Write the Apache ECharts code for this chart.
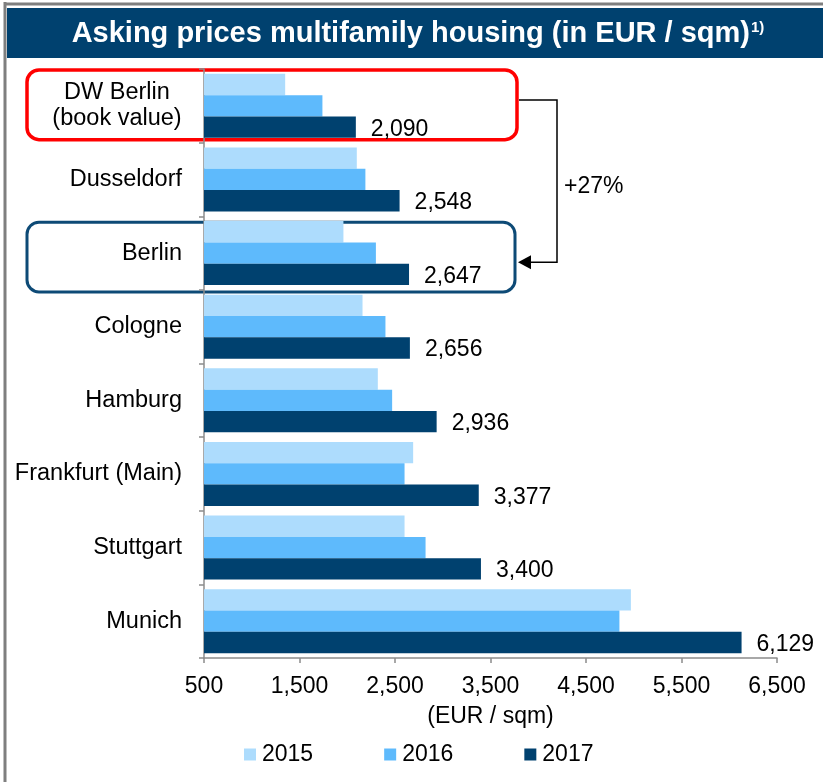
<!DOCTYPE html>
<html>
<head>
<meta charset="utf-8">
<script src="https://cdn.jsdelivr.net/npm/echarts@6/dist/echarts.min.js"></script>
<style>
  html, body { margin: 0; padding: 0; background: #fff; }
  #chart { width: 823px; height: 782px; }
</style>
</head>
<body>
<div id="chart"></div>
<script>
// categories top to bottom
const cities = ['DW Berlin\n(book value)', 'Dusseldorf', 'Berlin', 'Cologne', 'Hamburg', 'Frankfurt (Main)', 'Stuttgart', 'Munich'];
const years = ['2015', '2016', '2017'];
const v2015 = [1350, 2100, 1960, 2160, 2320, 2690, 2600, 4970];
const v2016 = [1740, 2190, 2300, 2400, 2470, 2600, 2820, 4850];
const v2017 = [2090, 2548, 2647, 2656, 2936, 3377, 3400, 6129];
const xTicks = [500, 1500, 2500, 3500, 4500, 5500, 6500];

// axis starts at 500: the scale runs in offset units so ticks fall on 500, 1500, ...
const base = xTicks[0];
const colors = ['#addcfd', '#5ebafc', '#00416f'];
const fmt = v => v.toLocaleString('en-US');
const font = 'Liberation Sans, Arial, sans-serif';
const fs = 23;
const catFs = 23.5;

// widest line of the two-line label, so both lines can be centred
const ctx = document.createElement('canvas').getContext('2d');
ctx.font = catFs + 'px ' + font;
const twoLineW = Math.ceil(Math.max.apply(null, cities[0].split('\n').map(s => ctx.measureText(s).width)));

var chart = echarts.init(document.getElementById('chart'));

function barSeries(name, values, color, withLabel) {
    return {
        name: name,
        type: 'bar',
        data: values.map(v => v - base),
        itemStyle: { color: color },
        barGap: '0%',
        barCategoryGap: '13%',
        label: {
            show: withLabel,
            position: 'right',
            distance: 15,
            color: '#000',
            fontSize: fs,
            fontFamily: font,
            offset: [0, 2],
            formatter: p => fmt(values[p.dataIndex])
        }
    };
}

chart.setOption({
    animation: false,
    backgroundColor: '#fff',
    grid: { left: 204, top: 69, width: 573, height: 589 },
    legend: {
        data: years,
        left: 239,
        top: 738,
        icon: 'rect',
        itemWidth: 12,
        itemHeight: 12,
        itemGap: 71,
        textStyle: { fontSize: fs, fontFamily: font, color: '#000', padding: [0, 0, 0, 1] }
    },
    xAxis: {
        type: 'value',
        min: 0,
        max: xTicks[xTicks.length - 1] - base,
        interval: xTicks[1] - xTicks[0],
        name: '(EUR / sqm)',
        nameLocation: 'middle',
        nameGap: 47,
        nameTextStyle: { fontSize: fs, fontFamily: font, color: '#000' },
        splitLine: { show: false },
        axisLine: { show: true, lineStyle: { color: '#8c8c8c', width: 1.5 } },
        axisTick: { show: true, length: 5, lineStyle: { color: '#8c8c8c', width: 1.5 } },
        axisLabel: {
            fontSize: fs, fontFamily: font, color: '#000', margin: 17,
            formatter: v => fmt(v + base)
        }
    },
    yAxis: {
        type: 'category',
        data: cities,
        inverse: true,
        axisLine: { show: true, lineStyle: { color: '#8c8c8c', width: 1.5 } },
        axisTick: { show: true, length: 5, lineStyle: { color: '#8c8c8c', width: 1.5 } },
        axisLabel: {
            margin: 22,
            color: '#000',
            fontSize: catFs,
            fontFamily: font,
            lineHeight: 26,
            formatter: v => v.indexOf('\n') >= 0 ? v.split('\n').map(s => '{c|' + s + '}').join('\n') : v,
            rich: { c: { width: twoLineW, align: 'center', fontSize: catFs, fontFamily: font, color: '#000', lineHeight: 26 } }
        }
    },
    series: [
        barSeries(years[0], v2015, colors[0], false),
        barSeries(years[1], v2016, colors[1], false),
        barSeries(years[2], v2017, colors[2], true)
    ]
});

// annotation boxes follow the category bands
const band = 589 / cities.length;
const yDW = chart.convertToPixel({ yAxisIndex: 0 }, 0);
const yBe = chart.convertToPixel({ yAxisIndex: 0 }, 2);
const boxL = 27, boxR = 517;
const redTop = yDW - band / 2 + 1, redH = band - 4;
const blueTop = yBe - band / 2 + 6, blueH = band - 4;
const arrowX = 557;
const y1 = redTop + 30, y2 = blueTop + 40;

chart.setOption({
    graphic: [
        { type: 'line', shape: { x1: 5, y1: 2, x2: 5, y2: 782 }, style: { stroke: '#7f7f7f', lineWidth: 3 } },
        { type: 'line', shape: { x1: 4, y1: 4, x2: 823, y2: 4 }, style: { stroke: '#7f7f7f', lineWidth: 3 } },
        { type: 'rect', shape: { x: 7, y: 8, width: 816, height: 50 }, style: { fill: '#00416f' } },
        {
            type: 'text', x: 418, y: 34,
            style: {
                text: '{t|Asking prices multifamily housing (in EUR / sqm)}{s|1)}',
                align: 'center', verticalAlign: 'middle',
                rich: {
                    t: { fontSize: 29, fontWeight: 'bold', fontFamily: font, fill: '#fff' },
                    s: { fontSize: 15, fontWeight: 'bold', fontFamily: font, fill: '#fff', padding: [0, 0, 12, 1] }
                }
            }
        },
        { type: 'rect', shape: { x: boxL, y: redTop, width: boxR - boxL, height: redH, r: 12 }, style: { fill: 'none', stroke: '#ff0000', lineWidth: 3.5 } },
        { type: 'rect', shape: { x: boxL, y: blueTop, width: boxR - 2 - boxL, height: blueH, r: 12 }, style: { fill: 'none', stroke: '#0d4a76', lineWidth: 3 } },
        { type: 'polyline', shape: { points: [[boxR + 2, y1], [arrowX, y1], [arrowX, y2], [boxR + 12, y2]] }, style: { stroke: '#000', lineWidth: 1.5, fill: 'none' } },
        { type: 'polygon', shape: { points: [[boxR + 1, y2], [boxR + 14, y2 - 7], [boxR + 14, y2 + 7]] }, style: { fill: '#000' } },
        { type: 'text', x: 564, y: (y1 + y2) / 2 + 6, style: { text: '+27%', fontSize: fs, fontFamily: font, fill: '#000', verticalAlign: 'middle' } }
    ]
});
</script>
</body>
</html>
